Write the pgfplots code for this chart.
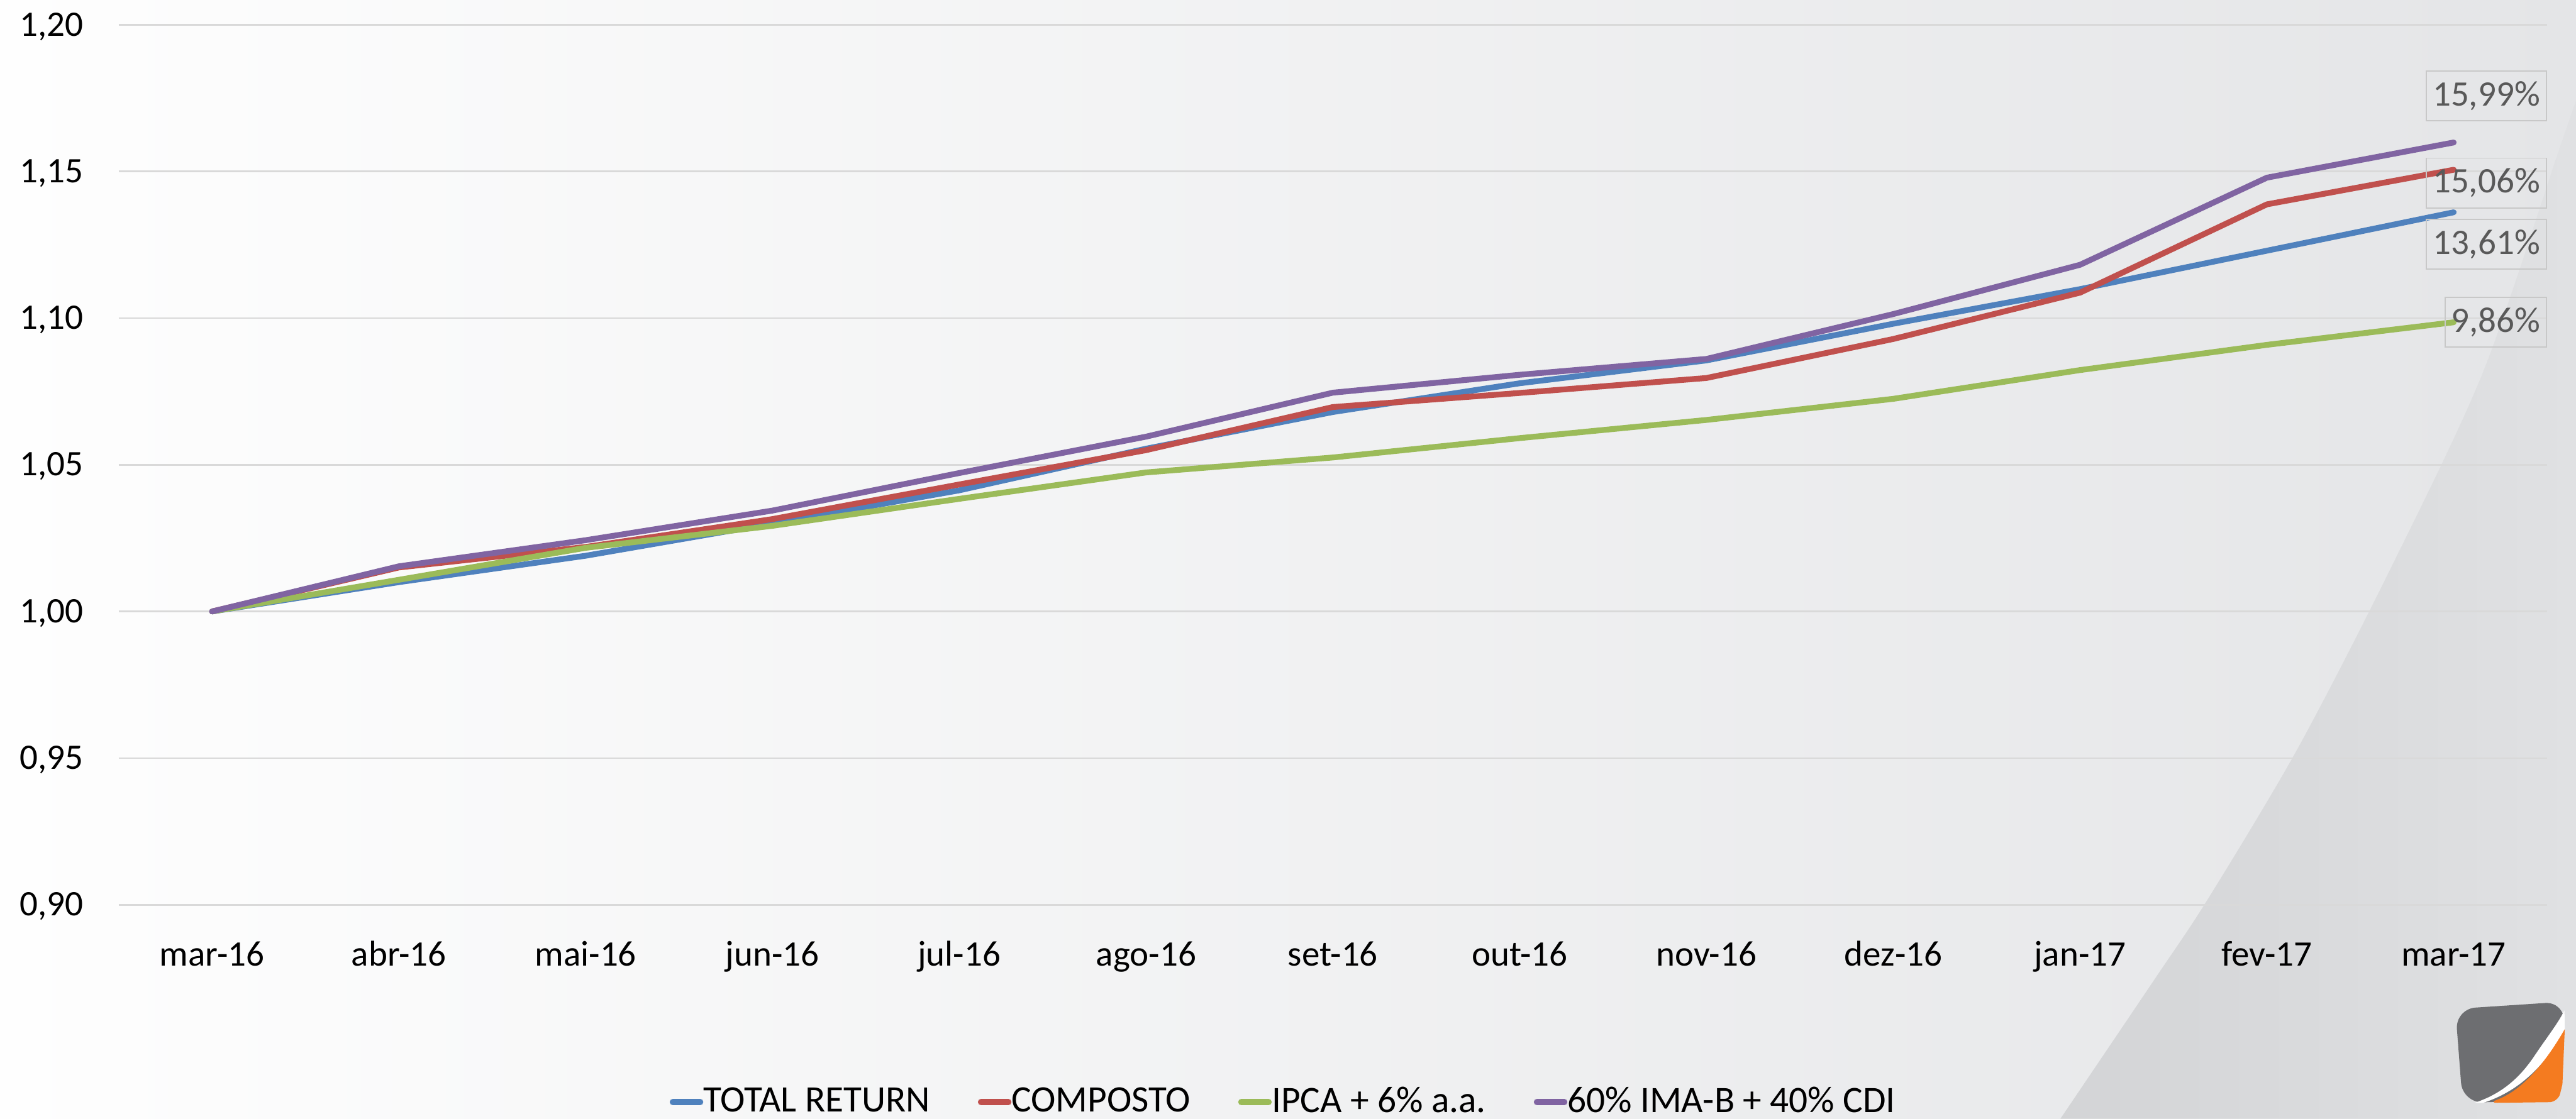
\documentclass[border=0pt]{standalone}
\usepackage{fontspec}
\setmainfont{Carlito}
\usepackage{pgfplots}
\pgfplotsset{compat=1.18}
\definecolor{cblue}{HTML}{4F81BD}
\definecolor{cred}{HTML}{C0504D}
\definecolor{cgreen}{HTML}{9BBB59}
\definecolor{cpurple}{HTML}{8064A2}
\definecolor{gridc}{HTML}{D9D9D9}
\definecolor{labc}{HTML}{595959}
\definecolor{labbox}{HTML}{C8C8C8}
\definecolor{bgL}{HTML}{FEFEFE}
\definecolor{bgM}{HTML}{F4F4F5}
\definecolor{bgR}{HTML}{E4E5E7}
\definecolor{swL}{HTML}{D3D4D6}
\definecolor{swR}{HTML}{E0E1E3}
\definecolor{logog}{HTML}{6D6E71}
\definecolor{logoo}{HTML}{F47B20}
\newcommand{\fs}{\fontsize{12.4}{14}\selectfont}
\newcommand{\fl}{\fontsize{12.9}{14}\selectfont}

\pgfplotstableread{
x blue red green purple
0 1.0000 1.0000 1.0000 1.0000
1 1.0100 1.0150 1.0108 1.0154
2 1.0190 1.0220 1.0217 1.0243
3 1.0300 1.0315 1.0292 1.0344
4 1.0413 1.0433 1.0384 1.0472
5 1.0555 1.0550 1.0474 1.0596
6 1.0680 1.0697 1.0525 1.0746
7 1.0778 1.0745 1.0591 1.0807
8 1.0856 1.0796 1.0653 1.0861
9 1.0981 1.0929 1.0725 1.1014
10 1.1099 1.1087 1.0823 1.1182
11 1.1230 1.1388 1.0909 1.1479
12 1.1361 1.1506 1.0986 1.1599
}\datatable

\begin{document}
\begin{tikzpicture}[x=1pt,y=1pt]
% background
\shade[left color=bgL, middle color=bgM, right color=bgR] (0,0) rectangle (890.2,386.8);
\shade[left color=swL, right color=swR]
  plot[smooth] coordinates {(712,0) (744.4,48) (763,76) (794,128) (826,190) (858,258) (884,334) (890.2,352)}
  -- (890.2,0) -- cycle;
% logo
\fill[logog, rounded corners=7pt] (851,5.5) -- (848.5,38) -- (886.5,40.5) -- (884,6.5) -- cycle;
\fill[white] (855,5.5) .. controls (866,9) and (872,16) .. (876,22) .. controls (880,28) and (884,33) .. (886.2,37.5) -- (886.3,30) .. controls (880,20) and (872,10) .. (858,5.5) -- cycle;
\fill[logoo] (860,5.5) .. controls (872,10) and (880,20) .. (886.3,31) -- (885.5,12) [rounded corners=3pt] -- (884,5.8) -- cycle;

\begin{axis}[
  at={(41pt,74pt)}, anchor=south west,
  scale only axis, width=839.2pt, height=304.2pt,
  xmin=-0.5, xmax=12.5, ymin=0.9, ymax=1.2,
  xtick={0,...,12},
  xticklabels={mar-16,abr-16,mai-16,jun-16,jul-16,ago-16,set-16,out-16,nov-16,dez-16,jan-17,fev-17,mar-17},
  ytick={0.9,0.95,1,1.05,1.1,1.15,1.2},
  ymajorgrids, grid style={gridc, line width=0.6pt},
  axis line style={draw=none},
  major tick length=0pt,
  ticklabel style={font=\fs, text=black},
  /pgf/number format/use comma,
  /pgf/number format/fixed,
  /pgf/number format/fixed zerofill,
  /pgf/number format/precision=2,
  /pgf/number format/assume math mode=true,
  yticklabel style={anchor=base east, inner sep=0pt, xshift=-12pt, yshift=-3.8pt},
  xticklabel style={anchor=base, inner sep=0pt, yshift=-21.2pt},
  clip=false,
  legend columns=4,
  legend cell align=left,
  legend style={at={(axis description cs:0.4793,-0.2242)}, anchor=center,
    draw=none, fill=none, font=\fl, inner sep=0pt,
    nodes={inner sep=0pt},
    /tikz/every even column/.append style={column sep=16.5pt}},
  legend image code/.code={\draw[#1, line width=2.2pt, line cap=round] (1.1pt,0pt) -- (10.5pt,0pt);},
  every axis plot/.append style={line width=2pt, line join=round, line cap=round},
]
\addplot[cblue] table[x=x, y=blue] {\datatable};
\addplot[cred] table[x=x, y=red] {\datatable};
\addplot[cgreen] table[x=x, y=green] {\datatable};
\addplot[cpurple] table[x=x, y=purple] {\datatable};
\legend{TOTAL RETURN, COMPOSTO, IPCA + 6\% a.a., 60\% IMA-B + 40\% CDI}

\node[draw=labbox, line width=0.4pt, text=labc, font=\fs, minimum width=41.6pt, minimum height=17.2pt, inner sep=0pt, anchor=east] at (axis cs:12.5,1.1758) {15,99\%};
\node[draw=labbox, line width=0.4pt, text=labc, font=\fs, minimum width=41.6pt, minimum height=17.2pt, inner sep=0pt, anchor=east] at (axis cs:12.5,1.1461) {15,06\%};
\node[draw=labbox, line width=0.4pt, text=labc, font=\fs, minimum width=41.6pt, minimum height=17.2pt, inner sep=0pt, anchor=east] at (axis cs:12.5,1.1252) {13,61\%};
\node[draw=labbox, line width=0.4pt, text=labc, font=\fs, minimum width=35pt, minimum height=17.2pt, inner sep=0pt, anchor=east] at (axis cs:12.5,1.0986) {9,86\%};
\end{axis}
\pgfresetboundingbox
\path[use as bounding box] (0,0) rectangle (890.2,386.8);
\end{tikzpicture}
\end{document}
